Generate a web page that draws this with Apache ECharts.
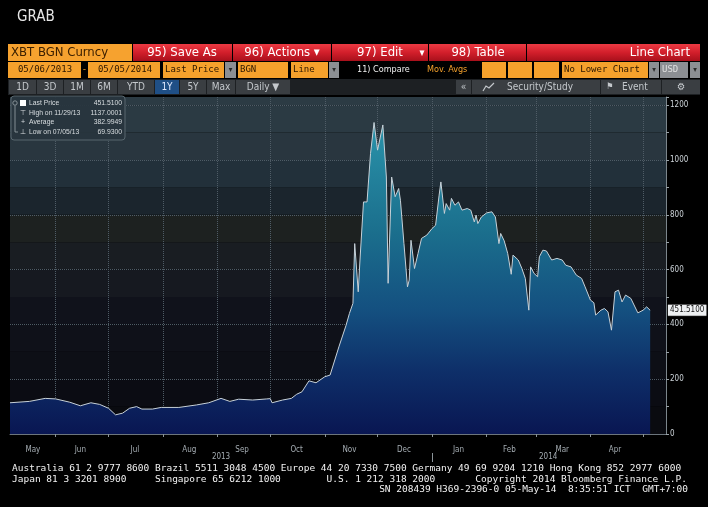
<!DOCTYPE html>
<html>
<head>
<meta charset="utf-8">
<title>GRAB</title>
<script src="https://cdn.jsdelivr.net/npm/echarts@6/dist/echarts.min.js"></script>
<style>
  html, body { margin: 0; padding: 0; background: #000; }
  #chart { width: 708px; height: 507px; }
</style>
</head>
<body>
<div id="chart"></div>
<script>
// XBT BGN Curncy, last price
var dates = [
    '2013-05-06','2013-05-17','2013-05-26','2013-06-01','2013-06-09','2013-06-15','2013-06-21','2013-06-26',
    '2013-07-01','2013-07-05','2013-07-09','2013-07-13','2013-07-17','2013-07-20','2013-07-26','2013-07-31',
    '2013-08-10','2013-08-20','2013-08-27','2013-09-03','2013-09-08','2013-09-13','2013-09-21','2013-09-29',
    '2013-10-01','2013-10-02','2013-10-08','2013-10-13','2013-10-16','2013-10-19','2013-10-23','2013-10-27',
    '2013-11-01','2013-11-04','2013-11-09','2013-11-13','2013-11-15','2013-11-17','2013-11-18','2013-11-20',
    '2013-11-21','2013-11-23','2013-11-25','2013-11-27','2013-11-29','2013-12-01','2013-12-04','2013-12-06',
    '2013-12-07','2013-12-09','2013-12-10','2013-12-11','2013-12-13','2013-12-14','2013-12-16','2013-12-18',
    '2013-12-19','2013-12-20','2013-12-22','2013-12-24','2013-12-26','2013-12-29','2014-01-01','2014-01-03',
    '2014-01-05','2014-01-06','2014-01-08','2014-01-09','2014-01-11','2014-01-12','2014-01-14','2014-01-16',
    '2014-01-18','2014-01-21','2014-01-23','2014-01-25','2014-01-26','2014-01-27','2014-01-29','2014-02-01',
    '2014-02-04','2014-02-06','2014-02-08','2014-02-09','2014-02-11','2014-02-13','2014-02-15','2014-02-16',
    '2014-02-19','2014-02-21','2014-02-23','2014-02-25','2014-02-26','2014-02-28','2014-03-02','2014-03-03',
    '2014-03-05','2014-03-07','2014-03-10','2014-03-13','2014-03-16','2014-03-18','2014-03-21','2014-03-24',
    '2014-03-27','2014-03-29','2014-04-01','2014-04-03','2014-04-04','2014-04-07','2014-04-09','2014-04-11',
    '2014-04-13','2014-04-15','2014-04-17','2014-04-19','2014-04-21','2014-04-24','2014-04-28','2014-05-01',
    '2014-05-03','2014-05-05'
];
var prices = [
    114, 119, 130, 128, 116, 103, 114, 108,
    94, 70, 76, 94, 100, 91, 91, 97,
    97, 106, 114, 130, 119, 127, 124, 128,
    129, 114, 124, 130, 145, 154, 194, 187,
    209, 215, 318, 395, 440, 477, 695, 519,
    635, 847, 847, 1024, 1137, 1036, 1128, 938,
    550, 938, 945, 866, 896, 853, 695, 537,
    562, 707, 604, 659, 714, 726, 750, 762,
    872, 920, 805, 841, 817, 860, 835, 847,
    817, 823, 817, 774, 799, 768, 792, 807,
    811, 792, 695, 732, 705, 659, 583, 653,
    635, 605, 568, 452, 610, 586, 574, 647,
    671, 668, 635, 641, 635, 616, 610, 580,
    568, 537, 489, 479, 434, 452, 458, 446,
    379, 519, 525, 482, 507, 495, 442, 452,
    464, 451.51
];

var monthNames = ['Jan','Feb','Mar','Apr','May','Jun','Jul','Aug','Sep','Oct','Nov','Dec'];
var monthStarts = ['2013-06-01','2013-07-01','2013-08-01','2013-09-01','2013-10-01','2013-11-01',
    '2013-12-01','2014-01-01','2014-02-01','2014-03-01','2014-04-01','2014-05-01'];
var monthMids = ['2013-05-19','2013-06-15','2013-07-16','2013-08-16','2013-09-15','2013-10-16',
    '2013-11-15','2013-12-16','2014-01-16','2014-02-14','2014-03-16','2014-04-15'];
var yearMids = ['2013-09-03','2014-03-08'];
var yearBreaks = ['2014-01-01'];

var legendNames = ['Last Price', 'High on 11/29/13', 'Average', 'Low on 07/05/13'];
var legendValues = ['451.5100', '1137.0001', '382.9949', '69.9300'];
var lastPrice = 451.51;

// background bands of the plot, one per 100, from the bottom up
var bandColors = ['#0a0b10','#0b0c13','#0d0f16','#0f1119','#10121b','#161920','#191d22',
    '#1d2120','#1b252d','#22303a','#29363f','#2b3a43','#2c3b44'];

var COND = '"DejaVu Sans Condensed", "Liberation Sans Narrow", "DejaVu Sans", sans-serif';
var NARROW = '"Liberation Sans", Arial, sans-serif';
var MONO = '"DejaVu Sans Mono", "Liberation Mono", monospace';

// dates to timestamps; the x axis is a plain value axis of ms
var t = function (s) { return +echarts.time.parse(s); };

var seriesData = [];
for (var i = 0; i < dates.length; i++) {
    seriesData.push([t(dates[i]), prices[i]]);
}

// little helpers for the terminal chrome
function box(x, y, w, h, fill) {
    return { type: 'rect', silent: true, shape: { x: x, y: y, width: w, height: h }, style: { fill: fill } };
}
function txt(x, y, s, fill, font, align) {
    return {
        type: 'text', silent: true, x: x, y: y,
        style: { text: s, fill: fill, font: font, textAlign: align || 'left', textVerticalAlign: 'middle' }
    };
}
function redGrad() {
    return new echarts.graphic.LinearGradient(0, 0, 0, 1, [
        { offset: 0, color: '#ec3a43' }, { offset: 0.5, color: '#d21f2b' }, { offset: 1, color: '#a8101b' }
    ]);
}

var els = [];
els.push(txt(17, 17, 'GRAB', '#e6e6e6', '15px ' + COND));

// row 1
var r1 = 44, h1 = 17;
els.push(box(8, r1, 124, h1, '#f6a22f'));
els.push(txt(11, r1 + 9, 'XBT BGN Curncy', '#3c2000', '13px ' + COND));
var redBtns = [[133, 99, '95) Save As', 182], [233, 98, '96) Actions \u25BE', 282],
    [332, 96, '97) Edit', 380], [429, 97, '98) Table', 478], [527, 173, '', 0]];
redBtns.forEach(function (b) {
    els.push({ type: 'rect', silent: true, shape: { x: b[0], y: r1, width: b[1], height: h1 }, style: { fill: redGrad() } });
    if (b[2]) els.push(txt(b[3], r1 + 9, b[2], '#ffffff', '13px ' + COND, 'center'));
});
els.push(txt(422, r1 + 9, '\u25BE', '#ffffff', '11px ' + COND, 'center'));
els.push(txt(690, r1 + 9, 'Line Chart', '#ffffff', '13px ' + COND, 'right'));

// row 2
var r2 = 62, h2 = 16;
var orangeFields = [[8, 73, '05/06/2013', 45, 'center'], [88, 72, '05/05/2014', 125, 'center'],
    [163, 61, 'Last Price', 165, 'left'], [238, 50, 'BGN', 240, 'left'], [291, 37, 'Line', 293, 'left'],
    [482, 24, '', 0], [508, 24, '', 0], [534, 25, '', 0], [562, 86, 'No Lower Chart', 564, 'left']];
orangeFields.forEach(function (f) {
    els.push(box(f[0], r2, f[1], h2, '#f5a12c'));
    if (f[2]) els.push(txt(f[3], r2 + 8, f[2], '#2a1600', '9px ' + MONO, f[4]));
});
els.push(txt(84.5, r2 + 8, '-', '#f5a12c', '9px ' + MONO, 'center'));
[[225, 11], [329, 10], [649, 10], [690, 10]].forEach(function (g) {
    els.push(box(g[0], r2, g[1], h2, '#8c8f93'));
    els.push(txt(g[0] + g[1] / 2, r2 + 8, '\u25BE', '#2a2a2a', '8px ' + COND, 'center'));
});
els.push(box(660, r2, 28, h2, '#8c8f93'));
els.push(txt(662, r2 + 8, 'USD', '#e0e0e0', '9px ' + MONO));
els.push(txt(357, r2 + 8, '11) Compare', '#f0f0f0', '9px ' + COND));
els.push(txt(427, r2 + 8, 'Mov. Avgs', '#f5a12c', '9px ' + COND));

// row 3
var r3 = 79, h3 = 16;
els.push(box(8, r3, 692, h3, '#1d2023'));
var tabs = [[9, 27, '1D'], [37, 26, '3D'], [64, 26, '1M'], [91, 26, '6M'], [118, 36, 'YTD'],
    [155, 24, '1Y'], [180, 26, '5Y'], [207, 28, 'Max'], [236, 54, 'Daily \u25BC'],
    [456, 15, '\u00AB'], [472, 128, ''], [601, 60, ''], [662, 38, '\u2699']];
tabs.forEach(function (b) {
    var on = b[2] === '1Y';
    els.push(box(b[0], r3 + 1, b[1], h3 - 2, on ? '#1f4f86' : '#3a3e42'));
    if (b[2]) els.push(txt(b[0] + b[1] / 2, r3 + 8, b[2], on ? '#dfe8ff' : '#c4c8cc', '10px ' + COND, 'center'));
});
els.push({ type: 'polyline', silent: true, shape: { points: [[483, 91], [486, 86], [489, 88], [494, 83]] },
    style: { stroke: '#c4c8cc', lineWidth: 1.2, fill: null } });
els.push(txt(507, r3 + 8, 'Security/Study', '#c4c8cc', '10px ' + COND));
els.push(txt(610, r3 + 8, '\u2691', '#c4c8cc', '9px ' + COND, 'center'));
els.push(txt(622, r3 + 8, 'Event', '#c4c8cc', '10px ' + COND));

// legend panel in the plot corner
els.push({ type: 'rect', silent: true, shape: { x: 11, y: 96, width: 114, height: 44, r: 3 },
    style: { fill: 'rgba(40,53,62,0.92)', stroke: '#58676f', lineWidth: 1 } });
var marks = ['', '\u22A4', '+', '\u22A5'];
for (var k = 0; k < legendNames.length; k++) {
    var yy = 103 + k * 9.7;
    els.push(txt(29, yy, legendNames[k], '#d8dde0', '6.8px ' + NARROW));
    els.push(txt(122, yy, legendValues[k], '#d8dde0', '6.8px ' + NARROW, 'right'));
    if (marks[k]) els.push(txt(23, yy, marks[k], '#d8dde0', '7px ' + NARROW, 'center'));
}
els.push({ type: 'rect', silent: true, shape: { x: 20, y: 100, width: 6, height: 6 }, style: { fill: '#ffffff' } });
els.push({ type: 'circle', silent: true, shape: { cx: 15, cy: 103, r: 2.2 }, style: { fill: null, stroke: '#9aa4aa', lineWidth: 0.8 } });
els.push({ type: 'polyline', silent: true, shape: { points: [[15, 105.5], [15, 132], [18, 132]] },
    style: { stroke: '#9aa4aa', lineWidth: 0.8, fill: null } });

// footer
els.push(txt(12, 469, 'Australia 61 2 9777 8600 Brazil 5511 3048 4500 Europe 44 20 7330 7500 Germany 49 69 9204 1210 Hong Kong 852 2977 6000', '#f2f2f2', '9.5px ' + MONO));
els.push(txt(12, 480, 'Japan 81 3 3201 8900     Singapore 65 6212 1000        U.S. 1 212 318 2000       Copyright 2014 Bloomberg Finance L.P.', '#f2f2f2', '9.5px ' + MONO));
els.push(txt(688, 490, 'SN 208439 H369-2396-0 05-May-14  8:35:51 ICT  GMT+7:00', '#f2f2f2', '9.5px ' + MONO, 'right'));
els.forEach(function (e) { e.z = 100; });

var chart = echarts.init(document.getElementById('chart'));
var option = {
    backgroundColor: '#000',
    animation: false,
    grid: { left: 10, right: 42, top: 97, bottom: 73, containLabel: false },
    xAxis: [{
        type: 'value',
        min: t('2013-05-06'),
        max: t('2014-05-14'),
        axisLine: { lineStyle: { color: '#6c757c' } },
        axisTick: { customValues: monthStarts.map(t), length: 3, lineStyle: { color: '#8a9399' } },
        axisLabel: {
            customValues: monthMids.map(t),
            color: '#a4acb2', fontSize: 8, fontFamily: COND, margin: 12,
            formatter: function (v) { return monthNames[new Date(v).getMonth()]; }
        },
        splitLine: { show: true, lineStyle: { type: 'dotted', color: '#4f5c66' } }
    }, {
        type: 'value',
        position: 'bottom',
        offset: 19,
        min: t('2013-05-06'),
        max: t('2014-05-14'),
        axisLine: { show: false },
        axisTick: { customValues: yearBreaks.map(t), length: 9, lineStyle: { color: '#8a9399' } },
        axisLabel: {
            customValues: yearMids.map(t),
            color: '#a4acb2', fontSize: 8, fontFamily: COND, margin: 0,
            formatter: function (v) { return String(new Date(v).getFullYear()); }
        },
        splitLine: { show: false }
    }],
    yAxis: {
        type: 'value',
        position: 'right',
        min: 0,
        max: 1230,
        interval: 100,
        axisLine: { show: true, lineStyle: { color: '#7c868c' } },
        axisTick: { show: true, length: 3, lineStyle: { color: '#9aa3a9' } },
        axisLabel: {
            color: '#ccd3d8', fontSize: 8, fontFamily: COND, margin: 4,
            formatter: function (v) { return v % 200 === 0 ? String(v) : ''; }
        },
        splitLine: { show: true, lineStyle: { type: 'dotted', color: ['#4f5c66', 'transparent'] } },
        splitArea: { show: true, areaStyle: { color: bandColors } }
    },
    series: [{
        name: 'Last Price',
        type: 'line',
        data: seriesData,
        showSymbol: false,
        symbol: 'none',
        lineStyle: { color: '#c7d1d8', width: 1 },
        areaStyle: {
            opacity: 1,
            color: new echarts.graphic.LinearGradient(0, 0, 0, 1, [
                { offset: 0, color: '#2a93aa' },
                { offset: 0.35, color: '#1b6f8d' },
                { offset: 0.6, color: '#145080' },
                { offset: 0.8, color: '#0e2f69' },
                { offset: 1, color: '#091652' }
            ])
        },
        markLine: {
            silent: true,
            symbol: 'none',
            data: [{ yAxis: lastPrice }],
            lineStyle: { color: 'rgba(0,0,0,0)', width: 0, type: 'solid' },
            label: {
                show: true,
                position: 'end', distance: 2,
                formatter: legendValues[0],
                backgroundColor: '#eef0f2', color: '#111', fontSize: 8, fontFamily: COND,
                padding: [2, 2, 1, 2], borderColor: '#333', borderWidth: 0.5, opacity: 1
            }
        }
    }],
    graphic: { elements: els }
};
chart.setOption(option);
window.addEventListener('resize', function () {
    chart.resize();
});
</script>
</body>
</html>
